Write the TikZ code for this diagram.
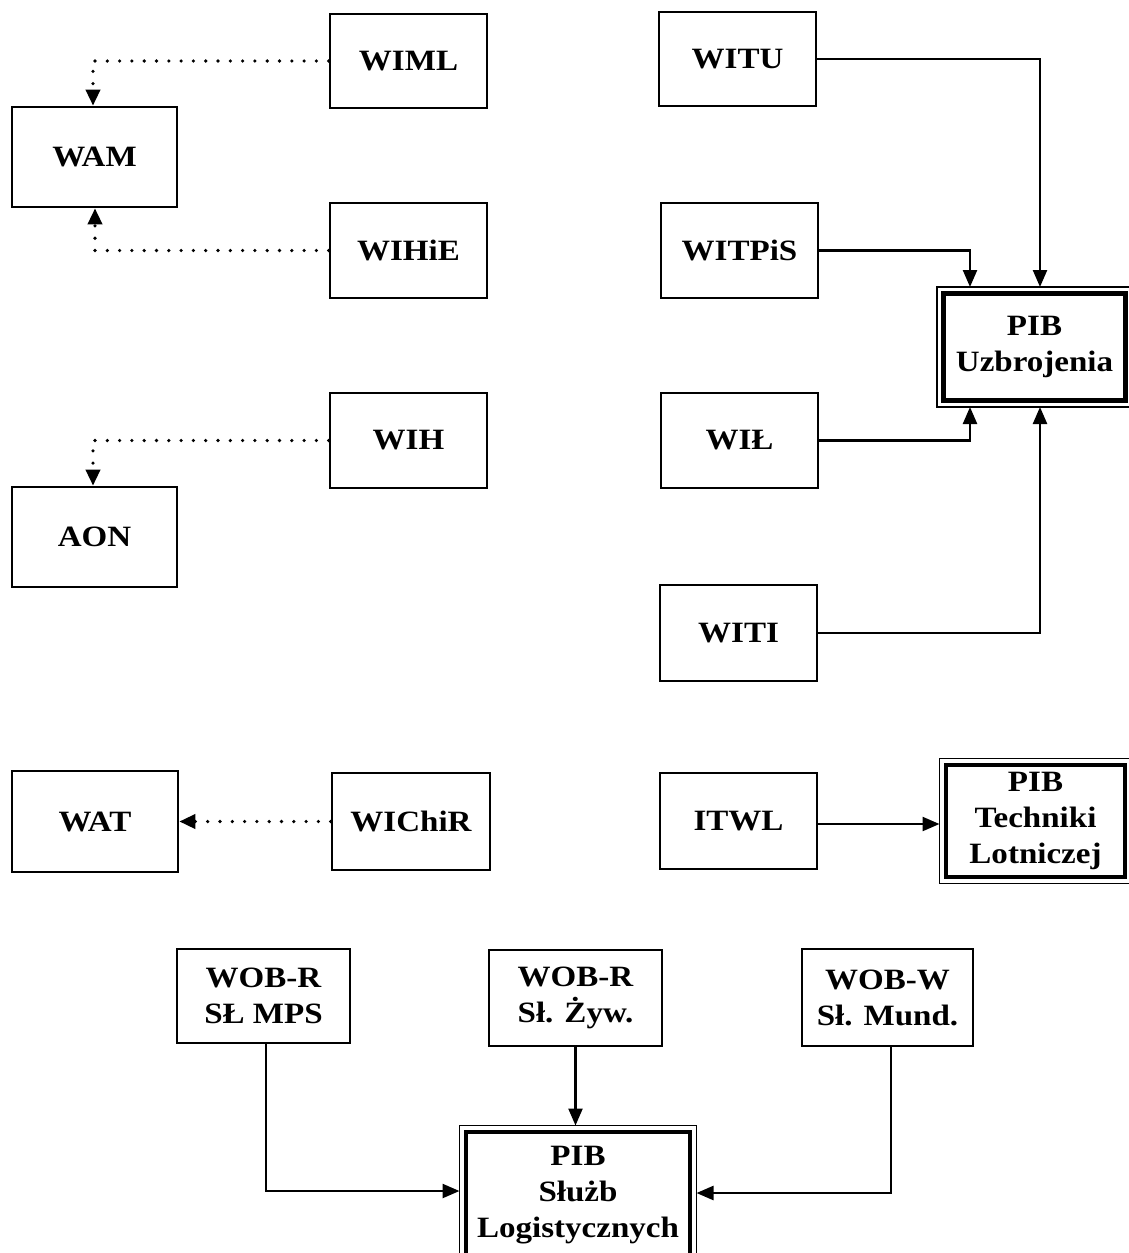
\documentclass[tikz,border=0pt]{standalone}
\usepackage{fontspec}
\newfontfamily\tnr[FakeStretch=1.12]{Liberation Serif}
\usetikzlibrary{arrows.meta}
\begin{document}
\begin{tikzpicture}[x=1pt,y=-1pt,
  box/.style={draw, line width=2.6pt, align=center, inner sep=0pt,
    font=\tnr\bfseries\fontsize{29.5}{36}\selectfont},
  bigbox/.style={box, line width=4.5pt, outer sep=6.5pt},
  outerframe/.style={draw, line width=1.8pt},
  conn/.style={line width=2.4pt, -{Triangle[length=17pt,width=14pt]}},
  dotconn/.style={line width=3.6pt, line cap=round, dash pattern=on 0pt off 12.3pt,
    -{Triangle[length=16pt,width=14pt]}}
]
\useasboundingbox (0,0) rectangle (1128,1253);
% left column
\node[box, minimum width=157pt, minimum height=94pt] (wiml) at (408.5,61) {WIML};
\node[box, minimum width=165pt, minimum height=100pt] (wam) at (94.5,157) {WAM};
\node[box, minimum width=157pt, minimum height=95pt] (wihie) at (408.5,250.5) {WIHiE};
\node[box, minimum width=157pt, minimum height=95pt] (wih) at (408.5,440.5) {WIH};
\node[box, minimum width=165pt, minimum height=100pt] (aon) at (94.5,537) {AON};
\node[box, minimum width=166pt, minimum height=101pt] (wat) at (95,821.5) {WAT};
\node[box, minimum width=158pt, minimum height=97pt] (wichir) at (411,821.5) {WIChiR};
% right column
\node[box, minimum width=157pt, minimum height=94pt] (witu) at (737.5,59) {WITU};
\node[box, minimum width=157pt, minimum height=95pt] (witpis) at (739.5,250.5) {WITPiS};
\node[box, minimum width=157pt, minimum height=95pt] (wil) at (739.5,440.5) {WIŁ};
\node[box, minimum width=157pt, minimum height=96pt] (witi) at (738.5,633) {WITI};
\node[box, minimum width=157pt, minimum height=96pt] (itwl) at (738.5,821) {ITWL};
\node[bigbox, minimum width=182pt, minimum height=107pt] (pibu) at (1034.5,347) {PIB\\Uzbrojenia};
\node[bigbox, minimum width=179pt, minimum height=112pt] (pibt) at (1035.5,821) {PIB\\Techniki\\Lotniczej};
% bottom
\node[box, minimum width=173pt, minimum height=94pt] (wobr1) at (263.5,996) {WOB-R\\SŁ MPS};
\node[box, minimum width=173pt, minimum height=96pt] (wobr2) at (575.5,998) {WOB-R\\Sł. Żyw.};
\node[box, minimum width=171pt, minimum height=97pt] (wobw) at (887.5,997.5) {WOB-W\\Sł. Mund.};
\node[bigbox, minimum width=224pt, minimum height=126pt] (pibsl) at (578,1195) {PIB\\Służb\\Logistycznych};
% outer frames of the double boxes
\foreach \n in {pibu,pibt,pibsl}{
  \draw[outerframe] (\n.north west) rectangle (\n.south east);
}
% dotted connectors
\draw[dotconn] (wiml.west) -| ([xshift=-1.5pt]wam.north);
\draw[dotconn] (wihie.west) -| ([xshift=0.5pt]wam.south);
\draw[dotconn] (wih.west) -| ([xshift=-1.5pt]aon.north);
\draw[dotconn] (wichir.west) -- (wat.east);
% solid connectors
\draw[conn] (witu.east) -| ([xshift=5.5pt]pibu.north);
\draw[conn] (witpis.east) -| ([xshift=-64.5pt]pibu.north);
\draw[conn] (wil.east) -| ([xshift=-64.5pt]pibu.south);
\draw[conn] (witi.east) -| ([xshift=5.5pt]pibu.south);
\draw[conn] ([yshift=-3pt]itwl.east) -- ([yshift=-3pt]itwl.east -| pibt.west);
\draw[conn] ([xshift=2.5pt]wobr1.south) |- ([yshift=4pt]pibsl.west);
\draw[conn] (wobr2.south) -- (wobr2.south |- pibsl.north);
\draw[conn] ([xshift=3.5pt]wobw.south) |- ([yshift=2pt]pibsl.east);
\end{tikzpicture}
\end{document}
